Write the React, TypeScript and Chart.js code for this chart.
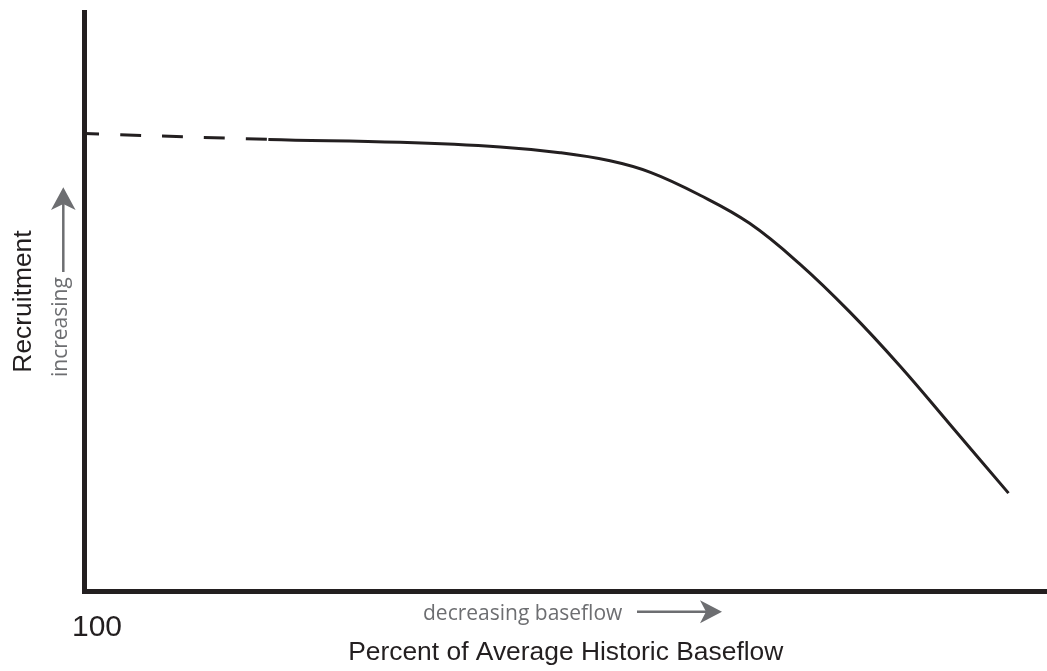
import React, { useEffect, useRef } from "react";
import { Chart, registerables } from "chart.js";

Chart.register(...registerables);

// ---- data ----
const baseflowPct = [100, 80.9, 67.2, 56.8, 50.6, 45.4, 41.2, 36.1, 30.9, 25.7, 20.5, 15.3, 10.1, 4.0];
const recruitment = [79.0, 78.0, 77.5, 76.7, 75.7, 74.3, 72.3, 68.4, 63.5, 56.5, 48.2, 38.9, 28.8, 16.9];
const dashedSegmentCount = 1; // first segment is an extrapolation, drawn dashed
const xTickValues = [100, 0];
const xTickLabels = ["100", ""];
const xTitle = "Percent of Average Historic Baseflow";
const yTitle = "Recruitment";
const xNote = "decreasing baseflow";
const yNote = "increasing";

const INK = "#231f20";
const GRAY = "#6d6e71";
const SANS = "'Liberation Sans', Arial, sans-serif";
const NOTE_FONT = "21px 'Open Sans', 'Noto Sans', sans-serif";

function arrowHead(ctx: CanvasRenderingContext2D, tipX: number, tipY: number, angle: number, len: number, half: number, notch: number) {
  ctx.save();
  ctx.translate(tipX, tipY);
  ctx.rotate(angle);
  ctx.beginPath();
  ctx.moveTo(0, 0);
  ctx.lineTo(-len, -half);
  ctx.lineTo(-len + notch, 0);
  ctx.lineTo(-len, half);
  ctx.closePath();
  ctx.fill();
  ctx.restore();
}

const notesPlugin = {
  id: "notes",
  afterDraw(chart: any) {
    const { ctx, chartArea: a } = chart;
    ctx.save();
    ctx.fillStyle = GRAY;
    ctx.strokeStyle = GRAY;
    ctx.font = NOTE_FONT;
    ctx.textBaseline = "alphabetic";
    ctx.textAlign = "left";

    // horizontal note under the x axis
    ctx.fillText(xNote, a.left + 338.5, a.bottom + 29);
    const ay = a.bottom + 20.7;
    ctx.lineWidth = 2.5;
    ctx.beginPath();
    ctx.moveTo(a.left + 552.5, ay);
    ctx.lineTo(a.left + 622, ay);
    ctx.stroke();
    arrowHead(ctx, a.left + 637.5, ay, 0, 22, 11.5, 6);

    // vertical note beside the y axis
    const vx = a.left - 21.2;
    ctx.save();
    ctx.translate(a.left - 17.5, a.top + 365);
    ctx.rotate(-Math.PI / 2);
    ctx.fillText(yNote, 0, 0);
    ctx.restore();
    ctx.beginPath();
    ctx.moveTo(vx, a.top + 260);
    ctx.lineTo(vx, a.top + 192);
    ctx.stroke();
    arrowHead(ctx, vx, a.top + 175.3, -Math.PI / 2, 22.7, 12.3, 6);
    ctx.restore();
  },
};

export default function App() {
  const ref = useRef<HTMLCanvasElement | null>(null);

  useEffect(() => {
    if (!ref.current) return;
    const points = baseflowPct.map((x, i) => ({ x, y: recruitment[i] }));
    const chart = new Chart(ref.current, {
      type: "line",
      data: {
        datasets: [
          {
            data: points,
            borderColor: INK,
            borderWidth: 3,
            pointRadius: 0,
            fill: false,
            tension: 0.4,
            segment: {
              borderDash: (c: any) => (c.p1DataIndex <= dashedSegmentCount ? [21, 21] : undefined),
              borderDashOffset: (c: any) => (c.p1DataIndex <= dashedSegmentCount ? 6.5 : 0),
            },
          } as any,
        ],
      },
      options: {
        animation: false,
        responsive: false,
        devicePixelRatio: 1,
        layout: { padding: { left: 0, top: 12, right: 0, bottom: 5 } },
        plugins: {
          legend: { display: false },
          tooltip: { enabled: false },
        },
        scales: {
          x: {
            type: "linear",
            min: 0,
            max: 100,
            reverse: true,
            afterBuildTicks: (scale: any) => {
              scale.ticks = xTickValues.map((v) => ({ value: v }));
            },
            ticks: {
              autoSkip: false,
              maxRotation: 0,
              minRotation: 0,
              padding: 0,
              labelOffset: 12.5,
              color: INK,
              font: { family: SANS, size: 30, lineHeight: 0.8 },
              callback: (v: any) => {
                const i = xTickValues.indexOf(Number(v));
                return i >= 0 ? xTickLabels[i] : "";
              },
            },
            grid: {
              display: true,
              color: "rgba(0,0,0,0)",
              drawOnChartArea: false,
              drawTicks: true,
              tickLength: 24.5,
            },
            border: { display: true, width: 5, color: INK },
            title: {
              display: true,
              text: xTitle,
              color: INK,
              font: { family: SANS, size: 26.4, lineHeight: 1 },
              padding: { top: 0.1, bottom: 0 },
            },
          },
          y: {
            type: "linear",
            min: 0,
            max: 100,
            ticks: { display: false },
            grid: { display: false, drawTicks: false },
            border: { display: true, width: 5, color: INK },
            title: {
              display: true,
              text: yTitle,
              color: INK,
              font: { family: SANS, size: 26.4, lineHeight: 1 },
              padding: { top: 10.3, bottom: 47.8 },
            },
          },
        },
      } as any,
      plugins: [notesPlugin],
    });
    return () => chart.destroy();
  }, []);

  return (
    <div style={{ position: "absolute", left: 0, top: 0, width: 1047, height: 671, background: "#fff" }}>
      <canvas ref={ref} width={1047} height={671} style={{ display: "block", width: 1047, height: 671 }} />
    </div>
  );
}
